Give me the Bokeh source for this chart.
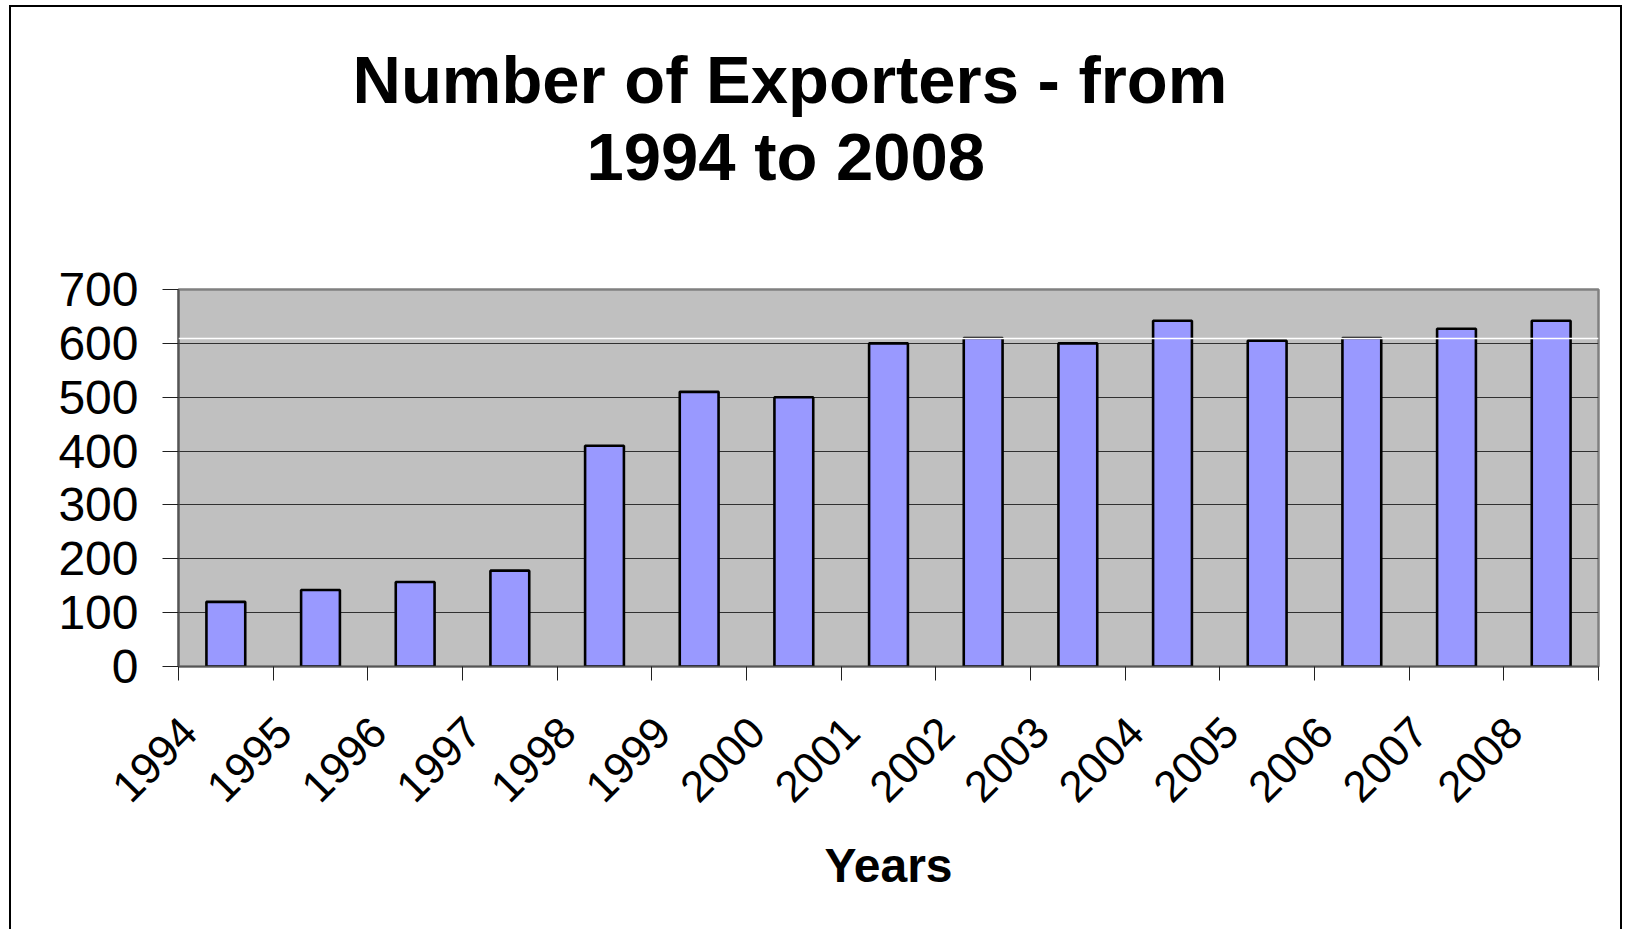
import numpy as np
from math import pi
from bokeh.plotting import figure
from bokeh.models import (Range1d, FixedTicker, Span, ColumnDataSource, Title,
                          LinearAxis)
from bokeh.embed import file_html
from bokeh.resources import INLINE

# ---- data ----
years = ["1994", "1995", "1996", "1997", "1998", "1999", "2000", "2001",
         "2002", "2003", "2004", "2005", "2006", "2007", "2008"]
exporters = [120, 142, 157, 178, 410, 510, 500, 600, 610, 600, 642, 605, 610, 627, 642]
y_ticks = [0, 100, 200, 300, 400, 500, 600, 700]
title_line1 = "Number of Exporters - from"
title_line2 = "1994 to 2008"
x_title = "Years"
white_rule_level = 609

FONT = "Liberation Sans"
LABEL_SHIFT = 0.11   # rotated year labels sit a little right of the category boundary

n = len(years)
idx = np.arange(n)
src = ColumnDataSource(dict(x=idx + 0.5, top=exporters, year=years))

p = figure(width=1613, height=924, output_backend="svg", toolbar_location=None,
           x_range=Range1d(0, n), y_range=Range1d(y_ticks[0], y_ticks[-1]),
           min_border_left=167, min_border_right=26, min_border_top=282,
           min_border_bottom=265)
p.styles = {"margin-left": "9px", "margin-top": "5px",
            "border-left": "2px solid black", "border-right": "2px solid black",
            "border-top": "2px solid black"}

p.background_fill_color = "#C0C0C0"
p.border_fill_color = "white"
p.outline_line_color = "#808080"
p.outline_line_width = 2.5

# grid
p.xgrid.grid_line_color = None
p.ygrid.ticker = FixedTicker(ticks=y_ticks)
p.ygrid.grid_line_color = "#303030"
p.ygrid.grid_line_width = 1.1

p.add_layout(Span(location=white_rule_level, dimension="width",
                  line_color="white", line_width=1.5))

p.vbar(x="x", top="top", bottom=0, width=0.41, source=src,
       fill_color="#9999FF", line_color="black", line_width=2.6)

# y axis
ya = p.yaxis[0]
ya.ticker = FixedTicker(ticks=y_ticks)
ya.minor_tick_line_color = None
ya.major_tick_in = 0
ya.major_tick_out = 16
ya.major_tick_line_color = "#202020"
ya.axis_line_color = "#555555"
ya.axis_line_width = 2
ya.major_label_text_font = FONT
ya.major_label_text_font_size = "48px"
ya.major_label_text_color = "black"
ya.major_label_standoff = 24

# x axis: tick marks on category boundaries (no labels)
xa = p.xaxis[0]
xa.ticker = FixedTicker(ticks=list(range(n + 1)))
xa.major_label_overrides = {i: "" for i in range(n + 1)}
xa.major_label_text_font_size = "0px"
xa.major_label_standoff = 0
xa.minor_tick_line_color = None
xa.major_tick_in = 0
xa.major_tick_out = 14
xa.major_tick_line_color = "#202020"
xa.axis_line_color = "#555555"
xa.axis_line_width = 1.5

# second axis below carrying the rotated year labels and the axis title
lab_ticks = [i + LABEL_SHIFT for i in range(n)]
xl = LinearAxis(ticker=FixedTicker(ticks=lab_ticks),
                major_label_overrides={t: years[i] for i, t in enumerate(lab_ticks)},
                axis_line_color=None, major_tick_line_color=None,
                minor_tick_line_color=None, major_tick_in=0, major_tick_out=0,
                major_label_orientation=pi / 4, major_label_text_font=FONT,
                major_label_text_font_size="44px", major_label_text_color="black",
                major_label_standoff=44,
                axis_label=x_title, axis_label_text_font=FONT,
                axis_label_text_font_size="48px", axis_label_text_font_style="bold",
                axis_label_text_color="black", axis_label_standoff=20)
p.add_layout(xl, "below")

# title: line 1 is the plot title (outermost); a blank spacer keeps line 2 off the frame
TITLE_STYLE = dict(align="left", vertical_align="bottom", text_font=FONT,
                   text_font_size="67px", text_font_style="bold", text_color="black")
p.title.text = title_line1
p.title.offset = 174
p.title.standoff = 0
for k, v in TITLE_STYLE.items():
    setattr(p.title, k, v)

p.add_layout(Title(text=" ", standoff=19, **TITLE_STYLE), "above")
p.add_layout(Title(text=title_line2, offset=408, standoff=0, **TITLE_STYLE), "above")

open("out.html", "w").write(file_html(p, INLINE))
